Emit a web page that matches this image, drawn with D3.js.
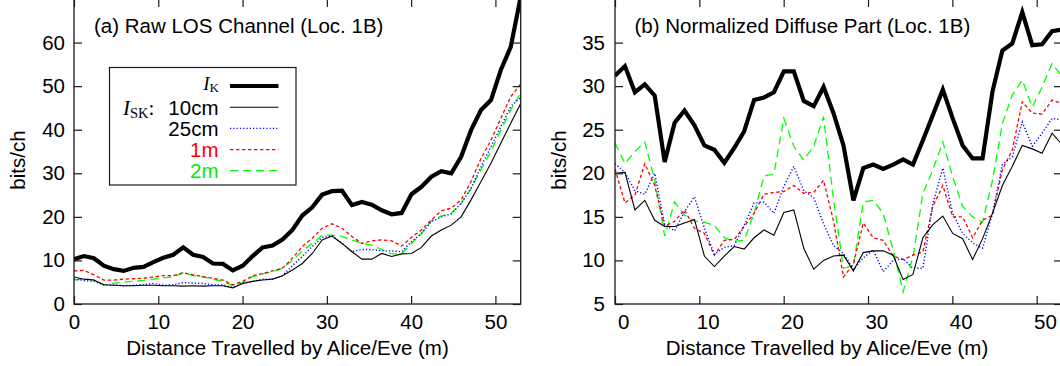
<!DOCTYPE html>
<html>
<head>
<meta charset="utf-8">
<script src="https://cdn.jsdelivr.net/npm/d3@7/dist/d3.min.js"></script>
<style>
  body { margin: 0; background: #fff; }
  svg { display: block; background: #fff; }
</style>
</head>
<body>
<svg id="chart" width="1060" height="366"></svg>
<script>
// distance travelled (m), one sample per position
const distance = [0, 1.18, 2.36, 3.53, 4.71, 5.89, 7.07, 8.24, 9.42, 10.60,
  11.78, 12.96, 14.13, 15.31, 16.49, 17.67, 18.84, 20.02, 21.20, 22.38,
  23.56, 24.73, 25.91, 27.09, 28.27, 29.44, 30.62, 31.80, 32.98, 34.16,
  35.33, 36.51, 37.69, 38.87, 40.04, 41.22, 42.40, 43.58, 44.76, 45.93,
  47.11, 48.29, 49.47, 50.64, 51.82, 53.00];

// (a) raw LOS channel
const losK = [10.3, 11.0, 10.5, 8.8, 8.0, 7.6, 8.3, 8.5, 9.6, 10.6,
  11.3, 13.0, 11.3, 10.8, 9.3, 9.2, 7.7, 8.8, 11.0, 13.0,
  13.4, 14.8, 17.0, 20.3, 22.2, 25.1, 25.9, 26.0, 22.7, 23.4,
  22.8, 21.5, 20.6, 20.9, 25.2, 26.9, 29.2, 30.5, 30.0, 33.8,
  39.9, 44.5, 46.8, 53.7, 59.0, 70.5];
const los10cm = [6.2, 5.7, 5.5, 4.4, 4.3, 4.2, 4.2, 4.3, 4.3, 4.2,
  4.2, 4.1, 4.2, 4.1, 4.2, 4.2, 3.7, 4.7, 5.2, 5.5,
  5.7, 6.5, 7.8, 9.3, 11.6, 14.7, 15.6, 13.9, 12.0, 10.3,
  10.3, 11.6, 10.9, 11.5, 11.6, 13.0, 15.6, 17.0, 18.1, 20.0,
  23.9, 28.1, 32.3, 36.9, 41.5, 46.0];
const los25cm = [5.7, 5.4, 5.2, 4.4, 4.4, 4.2, 4.3, 4.4, 4.7, 4.3,
  4.4, 4.9, 4.8, 4.7, 4.4, 4.4, 3.8, 4.8, 5.2, 5.7,
  5.7, 6.5, 8.8, 10.9, 13.2, 15.3, 15.6, 13.9, 12.0, 12.5,
  12.5, 12.2, 12.2, 12.0, 14.3, 16.2, 18.9, 20.0, 20.7, 23.1,
  26.5, 31.5, 36.1, 40.7, 45.3, 47.5];
const los1m = [7.6, 7.7, 6.7, 5.5, 5.5, 5.7, 5.8, 5.9, 6.2, 6.5,
  6.5, 7.2, 6.7, 6.3, 5.9, 5.5, 4.4, 5.2, 6.5, 7.0,
  7.6, 8.2, 10.5, 13.2, 15.1, 17.4, 18.4, 17.4, 15.5, 13.9,
  14.5, 14.7, 14.5, 13.3, 15.3, 17.0, 19.3, 21.4, 22.0, 23.9,
  28.1, 33.4, 37.6, 42.6, 47.6, 50.5];
const los2m = [5.5, 5.8, 5.5, 4.4, 4.8, 5.0, 5.2, 5.4, 5.7, 6.0,
  6.2, 7.2, 6.5, 6.2, 5.7, 5.2, 4.2, 4.9, 6.3, 6.9,
  7.4, 8.2, 10.0, 12.2, 13.9, 15.8, 15.8, 15.5, 14.7, 13.9,
  13.5, 12.5, 11.5, 11.5, 13.9, 16.2, 19.1, 20.2, 20.8, 23.1,
  26.5, 30.8, 35.0, 39.9, 44.5, 48.5];

// (b) normalized diffuse part
const diffK = [31.2, 32.3, 29.3, 30.2, 28.9, 21.3, 25.8, 27.2, 25.5, 23.2,
  22.7, 21.2, 22.9, 24.8, 28.4, 28.7, 29.3, 31.7, 31.7, 28.3,
  27.7, 29.9, 26.9, 23.2, 16.9, 20.6, 21.0, 20.5, 21.0, 21.6,
  21.0, 23.8, 26.7, 29.6, 26.3, 23.2, 21.7, 21.7, 29.4, 34.1,
  34.9, 38.5, 34.7, 34.8, 36.3, 36.5];
const diff10cm = [20.0, 20.1, 15.8, 16.9, 14.6, 13.9, 13.9, 14.3, 14.7, 10.5,
  9.3, 10.5, 11.6, 11.3, 12.6, 13.5, 12.9, 15.5, 15.8, 11.4,
  9.0, 10.0, 10.5, 10.6, 8.8, 10.9, 11.1, 11.1, 10.6, 7.8,
  8.4, 12.6, 14.1, 15.1, 13.1, 12.5, 10.1, 12.5, 15.4, 18.6,
  20.8, 23.2, 22.8, 22.3, 24.6, 23.3];
const diff25cm = [21.1, 20.1, 18.0, 17.6, 20.0, 14.1, 13.4, 15.6, 17.3, 13.7,
  10.7, 11.5, 11.7, 14.0, 16.6, 16.7, 15.4, 18.5, 20.8, 18.0,
  17.2, 14.2, 11.7, 10.8, 9.0, 10.3, 11.2, 8.7, 10.0, 10.2,
  9.1, 9.1, 16.5, 20.6, 15.4, 13.1, 12.0, 11.4, 15.4, 21.0,
  21.9, 25.9, 23.1, 24.6, 26.3, 26.1];
const diff1m = [20.5, 16.6, 17.5, 21.1, 18.6, 13.9, 14.5, 15.8, 13.7, 13.1,
  10.6, 12.3, 12.4, 13.9, 15.4, 17.6, 17.8, 17.9, 18.6, 17.7,
  17.8, 19.2, 14.5, 8.1, 9.6, 14.3, 12.6, 12.3, 10.5, 10.1,
  10.6, 11.0, 16.2, 18.6, 15.0, 15.0, 12.6, 14.6, 15.2, 20.4,
  22.7, 28.2, 26.9, 26.8, 28.4, 28.0];
const diff2m = [23.5, 21.1, 22.5, 23.6, 19.2, 12.8, 16.7, 15.2, 14.5, 14.4,
  14.0, 12.6, 12.2, 12.3, 15.4, 19.7, 19.9, 26.3, 23.1, 21.5,
  23.1, 26.5, 17.0, 9.1, 9.4, 16.7, 16.9, 15.4, 11.2, 6.4,
  10.4, 17.7, 20.4, 23.6, 19.6, 16.2, 15.0, 14.4, 19.2, 25.7,
  29.0, 30.7, 27.6, 29.9, 32.6, 31.1];

const xTicks = [0, 10, 20, 30, 40, 50];
const losYTicks = [0, 10, 20, 30, 40, 50, 60];
const diffYTicks = [5, 10, 15, 20, 25, 30, 35];
const legendLabels = ['10cm', '25cm', '1m', '2m'];

const sans = '"Liberation Sans", Arial, sans-serif';
const serif = '"Liberation Serif", "Times New Roman", serif';
const fontSize = 20.5;
const axisColor = '#1a1a1a';

// line looks, in draw order
const looks = [
  {key: '2m', color: '#00ff00', width: 1.3, dash: '8,5'},
  {key: '1m', color: '#ff0000', width: 1.3, dash: '3.4,2.6'},
  {key: '25cm', color: '#0000ff', width: 1.4, dash: '1.2,2.1'},
  {key: '10cm', color: '#000000', width: 1.1, dash: null},
  {key: 'K', color: '#000000', width: 4.2, dash: null}
];

const svg = d3.select('#chart');

function drawPanel(p) {
  const g = svg.append('g')
    .attr('transform', `translate(${p.left},${p.top})`);

  const x = d3.scaleLinear().domain([0, 53]).range([0, p.width]);
  const y = d3.scaleLinear().domain(p.yDomain).range([p.height, 0]);

  g.append('clipPath').attr('id', p.id)
    .append('rect')
    .attr('width', p.width).attr('height', p.height);

  const line = d3.line()
    .x((d, i) => x(distance[i]))
    .y(d => y(d));

  const lines = g.append('g').attr('clip-path', `url(#${p.id})`);
  looks.forEach(l => {
    lines.append('path')
      .datum(p.series[l.key])
      .attr('fill', 'none')
      .attr('stroke', l.color)
      .attr('stroke-width', l.width)
      .attr('stroke-dasharray', l.dash)
      .attr('stroke-linejoin', 'miter')
      .attr('d', line);
  });

  // axes, ticks pointing inward on all four sides
  const bottom = g.append('g')
    .attr('transform', `translate(0,${p.height})`)
    .call(d3.axisBottom(x).tickValues(xTicks).tickSizeInner(-8).tickSizeOuter(0).tickPadding(10));
  bottom.selectAll('text').attr('dx', p.xLabelShift);

  const top = g.append('g')
    .call(d3.axisTop(x).tickValues(xTicks).tickSizeInner(-8).tickSizeOuter(0).tickFormat(''));

  const left = g.append('g')
    .call(d3.axisLeft(y).tickValues(p.yTicks).tickSizeInner(-8).tickSizeOuter(0).tickPadding(p.yPad));

  const right = g.append('g')
    .attr('transform', `translate(${p.width},0)`)
    .call(d3.axisRight(y).tickValues(p.yTicks).tickSizeInner(-8).tickSizeOuter(0).tickFormat(''));

  [bottom, top, left, right].forEach(a => {
    a.attr('font-family', sans).attr('font-size', fontSize);
    a.select('.domain').remove();
    a.selectAll('line').attr('stroke', axisColor).attr('stroke-width', 1.2);
    a.selectAll('text').attr('fill', '#000');
  });

  g.append('rect')
    .attr('width', p.width).attr('height', p.height)
    .attr('fill', 'none')
    .attr('stroke', axisColor)
    .attr('stroke-width', 1.3);

  svg.append('text')
    .attr('x', p.titleX).attr('y', 33)
    .attr('font-family', sans).attr('font-size', fontSize)
    .text(p.title);

  svg.append('text')
    .attr('x', p.xLabelX).attr('y', 355)
    .attr('text-anchor', 'middle')
    .attr('font-family', sans).attr('font-size', fontSize)
    .text('Distance Travelled by Alice/Eve (m)');

  svg.append('text')
    .attr('transform', `translate(${p.yLabelX},160) rotate(-90)`)
    .attr('text-anchor', 'middle')
    .attr('font-family', sans).attr('font-size', fontSize)
    .text('bits/ch');
}

drawPanel({
  id: 'clip-a', left: 74, top: -1, width: 446.7, height: 305,
  yDomain: [0, 70], yTicks: losYTicks, yPad: 9, xLabelShift: 0,
  series: {K: losK, '10cm': los10cm, '25cm': los25cm, '1m': los1m, '2m': los2m},
  title: '(a) Raw LOS Channel (Loc. 1B)', titleX: 94,
  xLabelX: 287.5, yLabelX: 25
});

drawPanel({
  id: 'clip-b', left: 615, top: -1, width: 447, height: 305,
  yDomain: [5, 40], yTicks: diffYTicks, yPad: 10, xLabelShift: 8.3,
  series: {K: diffK, '10cm': diff10cm, '25cm': diff25cm, '1m': diff1m, '2m': diff2m},
  title: '(b) Normalized Diffuse Part (Loc. 1B)', titleX: 634.5,
  xLabelX: 827, yLabelX: 565.5
});

// legend of panel (a)
const legend = svg.append('g');
legend.append('rect')
  .attr('x', 109.5).attr('y', 67.5)
  .attr('width', 186.5).attr('height', 117.5)
  .attr('fill', '#fff')
  .attr('stroke', axisColor)
  .attr('stroke-width', 1.2);

const rowY = d3.scaleLinear().domain([0, 4]).range([86, 170.7]);
const legendOrder = ['K', '10cm', '25cm', '1m', '2m'];
legendOrder.forEach((key, i) => {
  const l = looks.find(d => d.key === key);
  legend.append('line')
    .attr('x1', 230).attr('x2', 278.5)
    .attr('y1', rowY(i)).attr('y2', rowY(i))
    .attr('stroke', l.color)
    .attr('stroke-width', l.width)
    .attr('stroke-dasharray', l.dash);
});

// I_K
const ik = legend.append('text')
  .attr('x', 219).attr('y', rowY(0) + 4)
  .attr('text-anchor', 'end')
  .attr('font-family', serif).attr('font-size', 19);
ik.append('tspan').attr('font-style', 'italic').text('I');
ik.append('tspan').attr('font-size', 13).attr('dy', 2).text('K');

// I_SK:
const isk = legend.append('text')
  .attr('x', 123).attr('y', rowY(1) + 7.5)
  .attr('font-family', serif).attr('font-size', 21);
isk.append('tspan').attr('font-style', 'italic').text('I');
isk.append('tspan').attr('font-size', 14.5).attr('dy', 3.5).text('SK');
isk.append('tspan').attr('dy', -3.5).text(':');

const legendColors = {'10cm': '#000', '25cm': '#000', '1m': '#ff0000', '2m': '#00ee00'};
legendLabels.forEach((t, i) => {
  legend.append('text')
    .attr('x', 218.5).attr('y', rowY(i + 1) + 7.5)
    .attr('text-anchor', 'end')
    .attr('font-family', sans).attr('font-size', fontSize)
    .attr('fill', legendColors[t])
    .text(t);
});
</script>
</body>
</html>
